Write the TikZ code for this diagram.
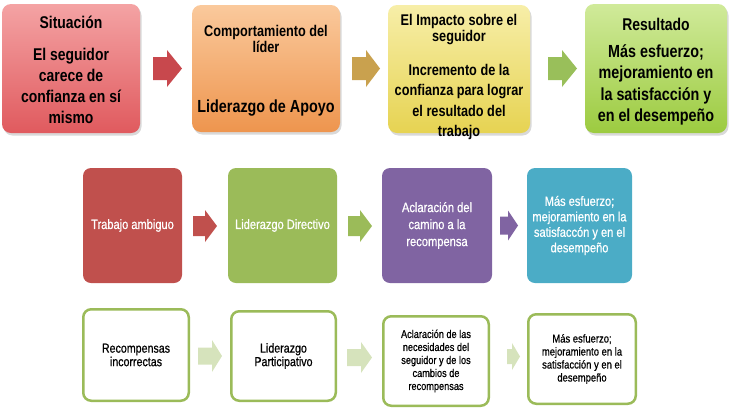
\documentclass[tikz,border=0pt]{standalone}
\usepackage{fontspec}
\setmainfont{Liberation Sans}[FakeStretch=0.82]
\newfontfamily\semibold{Liberation Sans}[FakeStretch=0.82, FakeBold=0.6]
\usetikzlibrary{shadows}
\definecolor{r1top}{HTML}{F4A3A4}
\definecolor{r1mid}{HTML}{EA6C70}
\definecolor{r1bot}{HTML}{E05A5E}
\definecolor{o1top}{HTML}{FAC99C}
\definecolor{o1mid}{HTML}{F5A762}
\definecolor{o1bot}{HTML}{EE954E}
\definecolor{y1top}{HTML}{F7EEA8}
\definecolor{y1mid}{HTML}{EEDF6C}
\definecolor{y1bot}{HTML}{E6D352}
\definecolor{g1top}{HTML}{D0EA9A}
\definecolor{g1mid}{HTML}{AAD553}
\definecolor{g1bot}{HTML}{9CCB40}
\definecolor{ar1}{HTML}{C8484D}
\definecolor{ar2}{HTML}{C9A14E}
\definecolor{ar3}{HTML}{99BF5A}
\definecolor{offred}{HTML}{C0504D}
\definecolor{offgreen}{HTML}{9BBB59}
\definecolor{offpurple}{HTML}{8064A2}
\definecolor{offteal}{HTML}{4BACC6}
\definecolor{palegreen}{HTML}{D6E3BC}
% block arrow: name, x start, x head, x tip, y centre, shaft half, head half, colour
\newcommand\blockarr[8]{%
  \fill[#8] (#2,{#5-#6}) -- (#3,{#5-#6}) -- (#3,{#5-#7}) -- (#4,#5)
     -- (#3,{#5+#7}) -- (#3,{#5+#6}) -- (#2,{#5+#6}) -- cycle;
  \coordinate (#1) at ({(#2+#4)/2},#5);}
\begin{document}
\begin{tikzpicture}[x=1pt,y=-1pt,
  every node/.style={inner sep=0pt, outer sep=0pt},
  topbox/.style n args={3}{draw=none, rounded corners=9pt, top color=#1, middle color=#2, bottom color=#3,
     drop shadow={shadow xshift=1.5pt, shadow yshift=-2.5pt, opacity=.3}},
  midbox/.style={draw=none, rounded corners=8pt, fill=#1, text=white, align=center},
  lowbox/.style={draw=offgreen, line width=2.5pt, rounded corners=8pt, fill=white, align=center},
  ttext/.style 2 args={font=\bfseries\fontsize{#1}{#2}\selectfont, align=center},
]
\useasboundingbox (0,0) rectangle (734,408);

% ---- top row ----
\node[topbox={r1top}{r1mid}{r1bot}, minimum width=138pt, minimum height=129pt] (s1) at (71,68.5) {};
\node[topbox={o1top}{o1mid}{o1bot}, minimum width=148pt, minimum height=127pt] (s2) at (266,68.5) {};
\node[topbox={y1top}{y1mid}{y1bot}, minimum width=142pt, minimum height=128pt] (s3) at (459,69) {};
\node[topbox={g1top}{g1mid}{g1bot}, minimum width=142pt, minimum height=129pt] (s4) at (656,68.5) {};

\node[ttext={17}{21}] (s1h) at (71,22) {Situación};
\node[ttext={17}{21}] (s1b) at (71,85.5) {El seguidor\\carece de\\confianza en sí\\mismo};

\node[ttext={15.5}{16.5}] (s2h) at (266,39) {Comportamiento del\\líder};
\node[ttext={17.5}{21}] (s2b) at (266,108) {Liderazgo de Apoyo};

\node[ttext={15.5}{16}] (s3h) at (459,30) {El Impacto sobre el\\seguidor};
\node[ttext={15.5}{20.5}] (s3b) at (459,102) {Incremento de la\\confianza para lograr\\el resultado del\\trabajo};

\node[ttext={17}{21}] (s4h) at (656,24) {Resultado};
\node[ttext={17.5}{21.5}] (s4b) at (656,85) {Más esfuerzo;\\mejoramiento en\\la satisfacción y\\en el desempeño};

\blockarr{a1}{153}{167}{182}{68.5}{11.5}{18.5}{ar1}
\blockarr{a2}{352}{366}{380}{68.5}{11.5}{18.5}{ar2}
\blockarr{a3}{548}{562}{577}{68.5}{11.5}{18.5}{ar3}

% ---- middle row ----
\node[midbox=offred, minimum width=99pt, minimum height=115pt, font=\semibold\fontsize{13.5}{16}\selectfont] (m1) at (132.5,225.5) {Trabajo ambiguo};
\node[midbox=offgreen, minimum width=109pt, minimum height=115pt, font=\semibold\fontsize{13.5}{16}\selectfont] (m2) at (282.5,225.5) {Liderazgo Directivo};
\node[midbox=offpurple, minimum width=110pt, minimum height=115pt, font=\semibold\fontsize{13.6}{17}\selectfont] (m3) at (437,225.5) {Aclaración del\\camino a la\\recompensa};
\node[midbox=offteal, minimum width=105pt, minimum height=115pt, font=\semibold\fontsize{13.5}{15.5}\selectfont] (m4) at (579.5,225.5) {Más esfuerzo;\\mejoramiento en la\\satisfaccón y en el\\desempeño};

\blockarr{b1}{193}{205}{217}{226}{10}{16}{offred}
\blockarr{b2}{348}{360}{372}{226}{10}{16}{offgreen}
\blockarr{b3}{500}{508}{518}{225.5}{9}{15}{offpurple}

% ---- bottom row ----
\node[lowbox, minimum width=105.5pt, minimum height=91.5pt, font=\semibold\fontsize{13}{13.5}\selectfont] (l1) at (136,355) {Recompensas\\incorrectas};
\node[lowbox, minimum width=104.5pt, minimum height=89.5pt, font=\semibold\fontsize{13}{13.5}\selectfont] (l2) at (283.5,356) {Liderazgo\\Participativo};
\node[lowbox, minimum width=105.5pt, minimum height=89.5pt, font=\semibold\fontsize{11.2}{13}\selectfont] (l3) at (436,361) {Aclaración de las\\necesidades del\\seguidor y de los\\cambios de\\recompensas};
\node[lowbox, minimum width=107.5pt, minimum height=89.5pt, font=\semibold\fontsize{11.5}{13}\selectfont] (l4) at (582,359) {Más esfuerzo;\\mejoramiento en la\\satisfacción y en el\\desempeño};

\blockarr{c1}{198}{212}{222}{356}{8.5}{16}{palegreen}
\blockarr{c2}{347}{361}{372}{357.5}{8.5}{15.5}{palegreen}
\blockarr{c3}{507}{512}{520}{356.5}{7.5}{13.5}{palegreen}
\end{tikzpicture}
\end{document}
